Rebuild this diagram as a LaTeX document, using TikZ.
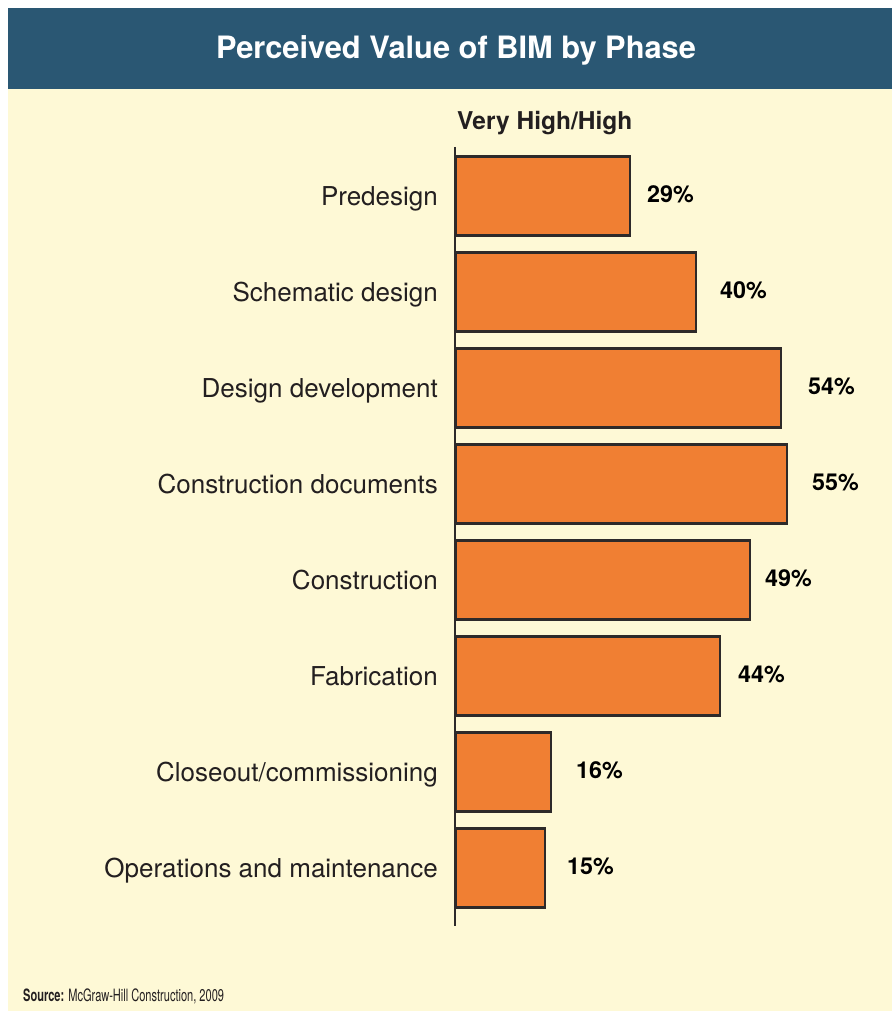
\documentclass[tikz,border=0pt]{standalone}
\usepackage{fontspec}
\setmainfont{TeX Gyre Heros}
\definecolor{titleblue}{HTML}{2A5773}
\definecolor{cream}{HTML}{FEF9D6}
\definecolor{barorange}{HTML}{F07F33}
\definecolor{ink}{HTML}{2D2A2A}
\definecolor{txt}{HTML}{231F20}
\begin{document}
\begin{tikzpicture}[x=1pt,y=-1pt,
  bar/.style={draw=ink,line width=2.8pt,fill=barorange,anchor=west,minimum height=79pt,inner sep=0pt,outer sep=0pt},
  cat/.style={anchor=base east,text=txt,font=\fontsize{26}{30}\selectfont,inner sep=0pt},
  pct/.style={anchor=base west,text=black,font=\bfseries\fontsize{23.3}{27}\selectfont,inner sep=0pt}]
\useasboundingbox (0,0) rectangle (892,1011);
\fill[white] (0,0) rectangle (892,1011);
\fill[cream] (8,89) rectangle (892,1011);
\fill[titleblue] (8,8) rectangle (892,89);
\node[anchor=base,text=white,font=\bfseries\fontsize{30.8}{34}\selectfont,inner sep=0pt] (title) at (456,59) {Perceived Value of BIM by Phase};
\node[anchor=base west,text=txt,font=\bfseries\fontsize{24.5}{28}\selectfont,inner sep=0pt] (head) at (457,130) {Very High/High};
\coordinate (axtop) at (455,147);
\coordinate (axbot) at (455,926);
% bars
\node[bar,minimum width=174pt] (b1) at (456,196) {};
\node[bar,minimum width=240pt] (b2) at (456,292) {};
\node[bar,minimum width=325pt] (b3) at (456,388) {};
\node[bar,minimum width=331pt] (b4) at (456,484) {};
\node[bar,minimum width=294pt] (b5) at (456,580) {};
\node[bar,minimum width=264pt] (b6) at (456,676) {};
\node[bar,minimum width=95pt] (b7) at (456,772) {};
\node[bar,minimum width=89pt] (b8) at (456,868) {};
\draw[ink,line width=2.5pt] (axtop) -- (axbot);
% category labels
\node[cat] (l1) at (438,205) {Predesign};
\node[cat] (l2) at (438,301) {Schematic design};
\node[cat] (l3) at (438,397) {Design development};
\node[cat] (l4) at (438,493) {Construction documents};
\node[cat] (l5) at (438,589) {Construction};
\node[cat] (l6) at (438,685) {Fabrication};
\node[cat] (l7) at (438,781) {Closeout/commissioning};
\node[cat] (l8) at (438,877) {Operations and maintenance};
% values
\node[pct] (p1) at (647,202) {29\%};
\node[pct] (p2) at (720,298) {40\%};
\node[pct] (p3) at (808,394) {54\%};
\node[pct] (p4) at (812,490) {55\%};
\node[pct] (p5) at (765,586) {49\%};
\node[pct] (p6) at (738,682) {44\%};
\node[pct] (p7) at (576,778) {16\%};
\node[pct] (p8) at (567,874) {15\%};
% source
\node[anchor=base west,text=txt,inner sep=0pt,xscale=0.65,font=\fontsize{17}{20}\selectfont] (src) at (23,1001) {\textbf{Source:} McGraw-Hill Construction, 2009};
\end{tikzpicture}
\end{document}
